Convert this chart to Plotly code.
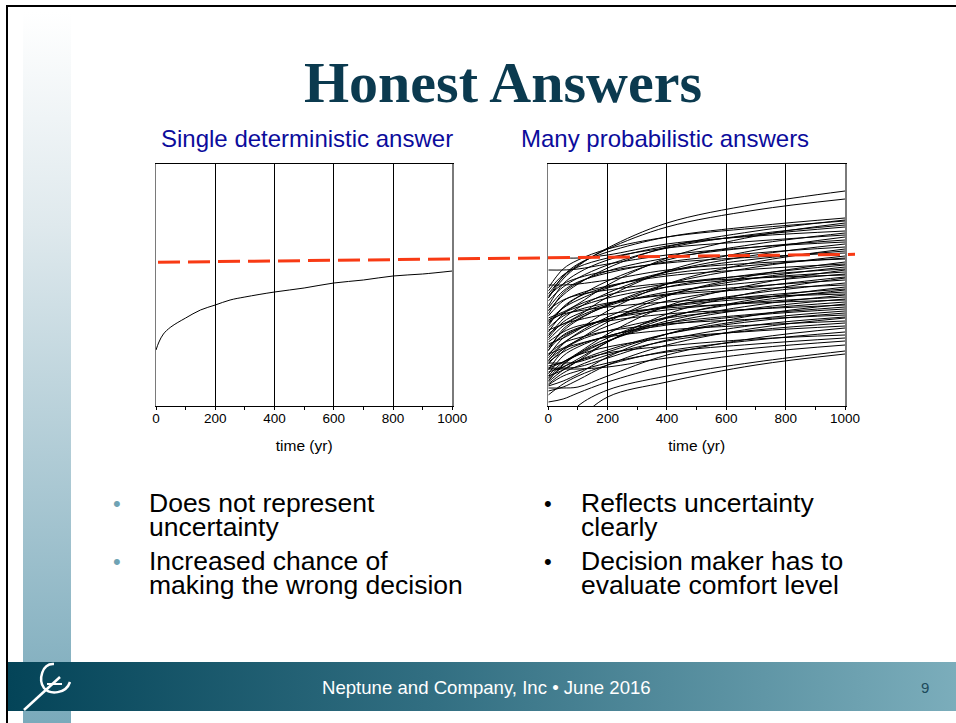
import plotly.graph_objects as go

# ---------------- data (y is unitless) ----------------
time_left = [0, 10, 25, 50, 100, 150, 200, 250, 300, 400, 500, 600, 700, 800, 900, 1000]
deterministic = [56, 64, 72, 79, 88, 96, 101, 106, 109, 114, 118, 123, 126, 130, 132, 135]

time_right = [0, 50, 100, 200, 400, 700, 1000]
upper_curves = [
    [108, 127, 140, 158, 183, 202, 215],
    [112, 129, 141, 157, 179, 196, 207],
    [108, 130, 142, 154, 169, 180, 188],
    [95, 111, 122, 138, 159, 175, 186],
    [118, 137, 146, 157, 169, 178, 185],
    [88, 94, 102, 121, 148, 170, 183],
    [105, 119, 128, 141, 158, 172, 181],
    [100, 122, 133, 146, 160, 171, 179],
    [148, 148, 148, 151, 162, 170, 175],
    [82, 98, 109, 125, 146, 162, 173],
    [115, 131, 139, 148, 158, 165, 171],
    [76, 82, 90, 109, 135, 156, 169],
    [92, 113, 123, 135, 148, 159, 166],
    [136, 136, 137, 142, 151, 159, 164],
    [70, 87, 98, 113, 134, 151, 162],
    [98, 115, 124, 133, 144, 153, 159],
    [62, 68, 76, 95, 122, 144, 157],
    [85, 98, 106, 118, 134, 147, 155],
    [110, 122, 128, 135, 143, 149, 153],
    [58, 75, 86, 101, 122, 139, 150],
    [80, 99, 109, 119, 132, 141, 148],
    [121, 121, 122, 126, 136, 143, 147],
]
middle_curves = [
    [52, 58, 66, 84, 110, 131, 144],
    [90, 105, 112, 120, 130, 137, 142],
    [66, 80, 89, 101, 119, 132, 141],
    [45, 62, 73, 89, 111, 128, 139],
    [74, 92, 101, 111, 122, 131, 137],
    [38, 44, 53, 72, 100, 122, 136],
    [84, 93, 99, 108, 119, 128, 134],
    [55, 77, 87, 100, 114, 124, 132],
    [96, 106, 111, 116, 123, 128, 131],
    [48, 63, 72, 86, 105, 119, 129],
    [30, 36, 45, 64, 92, 114, 128],
    [68, 84, 92, 102, 112, 120, 126],
    [42, 57, 66, 80, 99, 113, 123],
    [78, 90, 96, 103, 111, 117, 121],
    [34, 39, 47, 64, 88, 107, 119],
    [60, 70, 77, 87, 100, 110, 117],
    [25, 41, 52, 68, 89, 105, 116],
    [50, 68, 77, 87, 99, 108, 114],
    [86, 92, 95, 99, 104, 109, 112],
    [40, 44, 51, 65, 85, 101, 111],
    [56, 71, 78, 87, 96, 104, 109],
    [28, 42, 52, 65, 83, 98, 107],
]
lower_curves = [
    [72, 82, 86, 92, 98, 103, 106],
    [36, 55, 65, 75, 88, 97, 104],
    [20, 25, 32, 49, 72, 91, 102],
    [64, 74, 80, 85, 92, 97, 101],
    [44, 54, 61, 70, 83, 92, 99],
    [32, 50, 59, 70, 81, 91, 97],
    [43, 43, 44, 54, 72, 87, 95],
    [24, 36, 45, 56, 72, 85, 93],
    [52, 63, 68, 75, 82, 87, 91],
    [38, 38, 39, 48, 66, 81, 89],
    [15, 19, 26, 41, 61, 78, 88],
    [46, 57, 62, 69, 76, 81, 85],
    [22, 33, 40, 51, 65, 76, 83],
    [30, 44, 51, 59, 68, 75, 80],
    [18, 18, 19, 30, 51, 68, 78],
    [11, 22, 30, 41, 55, 66, 74],
    [27, 39, 45, 53, 60, 67, 71],
    [21, 30, 35, 43, 54, 62, 68],
    [37, 37, 37, 39, 48, 58, 65],
    [4, 7, 13, 24, 40, 53, 61],
    [-40, -18, 0, 16, 30, 44, 55],
    [-60, -35, -15, 9, 24, 41, 52],
]

threshold_span = [0, 1]          # from left chart start to right chart end
threshold = [143.7, 151.7]

x_ticks = [0, 200, 400, 600, 800, 1000]

title_text = "Honest Answers"
left_subtitle = "Single deterministic answer"
right_subtitle = "Many probabilistic answers"
left_bullets = [["Does not represent", "uncertainty"], ["Increased chance of", "making the wrong decision"]]
right_bullets = [["Reflects uncertainty", "clearly"], ["Decision maker has to", "evaluate comfort level"]]
footer_text = "Neptune and Company, Inc • June 2016"
page_number = "9"

# ---------------- figure ----------------
W, H = 956, 723
SANS = "Arial, Liberation Sans, sans-serif"
SERIF = "Times New Roman, Liberation Serif, serif"

fig = go.Figure()

# page decorations (pixel axes x4/y4)
fig.add_trace(go.Scatter(
    x=[23, 71, 71, 23, 23], y=[12, 12, 723, 723, 12], mode="lines", fill="toself",
    line=dict(width=0), fillgradient=dict(type="vertical", start=12, stop=723,
                                          colorscale=[[0, "#ffffff"], [0.3, "#dfe9ed"], [1, "#7aaabb"]]),
    xaxis="x4", yaxis="y4", hoverinfo="skip", showlegend=False))
fig.add_trace(go.Scatter(
    x=[8, 956, 956, 8, 8], y=[662, 662, 711, 711, 662], mode="lines", fill="toself",
    line=dict(width=0), fillgradient=dict(type="horizontal", start=8, stop=956,
                                          colorscale=[[0, "#044458"], [0.45, "#326f82"], [1, "#7badbb"]]),
    xaxis="x4", yaxis="y4", hoverinfo="skip", showlegend=False))

# left chart
fig.add_trace(go.Scatter(x=time_left, y=deterministic, mode="lines",
                         line=dict(color="black", width=1, shape="spline"),
                         xaxis="x", yaxis="y", showlegend=False))

# right chart
for curve in upper_curves + middle_curves + lower_curves:
    fig.add_trace(go.Scatter(x=time_right, y=curve, mode="lines",
                             line=dict(color="black", width=1, shape="spline"),
                             xaxis="x2", yaxis="y2", showlegend=False))

# threshold line spanning both charts
fig.add_trace(go.Scatter(x=threshold_span, y=threshold, mode="lines",
                         line=dict(color="#f83a14", width=3, dash="22px,8px"),
                         xaxis="x3", yaxis="y3", showlegend=False))

ydom = [1 - 406 / H, 1 - 164 / H]


def xaxis_style(domain, anchor):
    return dict(
        domain=domain, anchor=anchor, range=[0, 1000], tickmode="array", tickvals=x_ticks,
        ticks="outside", ticklen=3, tickcolor="black", showline=True, linecolor="black",
        linewidth=1, mirror=True, showgrid=True, gridcolor="black", gridwidth=1, zeroline=False,
        tickfont=dict(family=SANS, size=13.5, color="black"), ticklabelstandoff=-3,
        title=dict(text="time (yr)", font=dict(family=SANS, size=15.5, color="black"), standoff=14),
        minor=dict(ticks="outside", ticklen=3, tickcolor="black", tickvals=list(range(100, 1000, 200)),
                   showgrid=False),
        fixedrange=True,
    )


def yaxis_style(anchor):
    return dict(domain=ydom, anchor=anchor, range=[0, 242], showticklabels=False, ticks="",
                showgrid=False, zeroline=False, showline=True, linecolor="#7a7a7a", linewidth=1.5,
                mirror=True, fixedrange=True)


fig.update_layout(
    width=W, height=H, autosize=False, margin=dict(l=0, r=0, t=0, b=0, pad=0, autoexpand=False),
    paper_bgcolor="white", plot_bgcolor="rgba(0,0,0,0)", showlegend=False,
    xaxis=xaxis_style([156 / W, 452.3 / W], "y"),
    yaxis=yaxis_style("x"),
    xaxis2=xaxis_style([548.3 / W, 845 / W], "y2"),
    yaxis2=yaxis_style("x2"),
    xaxis3=dict(domain=[158 / W, 855 / W], anchor="y3", range=[0, 1], visible=False, fixedrange=True),
    yaxis3=dict(domain=ydom, anchor="x3", range=[0, 242], visible=False, fixedrange=True),
    xaxis4=dict(domain=[0, 1], anchor="y4", range=[0, W], visible=False, fixedrange=True),
    yaxis4=dict(domain=[0, 1], anchor="x4", range=[H, 0], visible=False, fixedrange=True),
)

shapes = [
    dict(type="line", xref="x4", yref="y4", x0=7, x1=7, y0=6, y1=723, line=dict(color="black", width=2)),
    dict(type="line", xref="x4", yref="y4", x0=6, x1=956, y0=6, y1=6, line=dict(color="black", width=2)),
    # logo
    dict(type="path", xref="x4", yref="y4", path="M 24 710 L 60 677", line=dict(color="white", width=2.5)),
    dict(type="path", xref="x4", yref="y4",
         path="M 54 664 C 42 663 38 680 44 688 C 50 695 66 694 70 682",
         line=dict(color="white", width=2.5)),
    dict(type="path", xref="x4", yref="y4", path="M 47 684 L 62 684", line=dict(color="white", width=2)),
]
fig.update_layout(shapes=shapes)

ann = []


def text(x, y, s, size, color="black", family=SANS, xanchor="left"):
    ann.append(dict(x=x, y=y, xref="x4", yref="y4", text=s, showarrow=False, xanchor=xanchor,
                    yanchor="middle", font=dict(family=family, size=size, color=color)))


text(503, 82, "<b>" + title_text + "</b>", 58, "#0b3a4f", SERIF, "center")
text(306.7, 138, left_subtitle, 24, "#0c0c9c", SANS, "center")
text(664.5, 138, right_subtitle, 24, "#0c0c9c", SANS, "center")

line_y = [[503, 527], [561, 585]]
for i, (b_left, b_right) in enumerate(zip(left_bullets, right_bullets)):
    text(117, line_y[i][0], "•", 22, "#6fa3b4", SANS, "center")
    text(548, line_y[i][0], "•", 22, "black", SANS, "center")
    for j in range(2):
        text(147, line_y[i][j], b_left[j], 26.5)
        text(579, line_y[i][j], b_right[j], 26.5)

text(486, 687, footer_text, 18.6, "white", SANS, "center")
text(925, 687, page_number, 15, "#1d4b5c", SANS, "center")

fig.update_layout(annotations=ann)

fig.write_html(
    "out.html",
    config={"responsive": False, "displayModeBar": False, "staticPlot": True},
    post_script=("document.body.style.margin='0';"
                 "document.body.style.overflow='hidden';"
                 "document.documentElement.style.overflow='hidden';"),
)
